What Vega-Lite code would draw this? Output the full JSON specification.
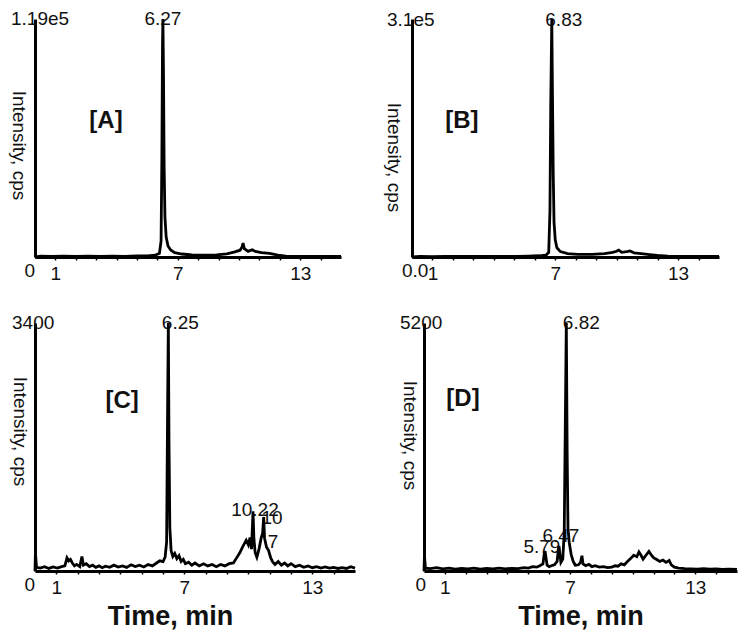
{
  "$schema": "https://vega.github.io/schema/vega-lite/v6.json",
  "padding": {"left": 8, "top": 10, "right": 4, "bottom": 4},
  "background": "white",
  "config": {
    "view": {"stroke": null},
    "font": "Liberation Sans",
    "text": {"font": "Liberation Sans", "fontSize": 19, "color": "#111"},
    "line": {"strokeWidth": 2.8, "color": "#000"},
    "axis": {
      "domainColor": "#000", "domainWidth": 3, "tickColor": "#000", "tickWidth": 1.5,
      "labelFont": "Liberation Sans", "labelFontSize": 19, "labelColor": "#111", "labelPadding": 4,
      "grid": false, "titleFont": "Liberation Sans", "titleColor": "#111"
    }
  },
  "datasets": {
    "A": [
      {"t":0,"i":0},{"t":0.3,"i":400},{"t":0.8,"i":250},{"t":1.4,"i":400},{"t":2.0,"i":300},{"t":2.6,"i":400},{"t":3.2,"i":250},{"t":3.8,"i":400},{"t":4.4,"i":300},{"t":5.0,"i":500},{"t":5.5,"i":600},{"t":5.9,"i":900},{"t":6.1,"i":1800},{"t":6.18,"i":8000},{"t":6.22,"i":50000},{"t":6.25,"i":105000},{"t":6.27,"i":119000},{"t":6.3,"i":90000},{"t":6.33,"i":45000},{"t":6.37,"i":20000},{"t":6.43,"i":10000},{"t":6.52,"i":5500},{"t":6.65,"i":3500},{"t":6.85,"i":2200},{"t":7.2,"i":1500},{"t":7.7,"i":1000},{"t":8.3,"i":900},{"t":8.9,"i":1100},{"t":9.4,"i":1600},{"t":9.8,"i":2600},{"t":10.05,"i":3400},{"t":10.15,"i":5000},{"t":10.2,"i":7000},{"t":10.26,"i":4200},{"t":10.45,"i":2800},{"t":10.65,"i":3600},{"t":10.8,"i":2800},{"t":11.1,"i":2200},{"t":11.5,"i":1800},{"t":11.9,"i":900},{"t":12.3,"i":400},{"t":13,"i":300},{"t":14,"i":300},{"t":15,"i":300}
    ],
    "B": [
      {"t":0,"i":0},{"t":0.4,"i":900},{"t":1,"i":600},{"t":1.6,"i":900},{"t":2.3,"i":700},{"t":3,"i":900},{"t":3.7,"i":700},{"t":4.4,"i":900},{"t":5.1,"i":900},{"t":5.7,"i":1200},{"t":6.2,"i":1600},{"t":6.55,"i":2500},{"t":6.68,"i":6000},{"t":6.74,"i":60000},{"t":6.78,"i":200000},{"t":6.83,"i":310000},{"t":6.86,"i":220000},{"t":6.9,"i":110000},{"t":6.94,"i":45000},{"t":7.0,"i":22000},{"t":7.08,"i":12000},{"t":7.25,"i":7000},{"t":7.6,"i":4500},{"t":8.1,"i":3500},{"t":8.8,"i":3500},{"t":9.4,"i":4500},{"t":9.8,"i":6000},{"t":10.0,"i":7500},{"t":10.1,"i":9000},{"t":10.25,"i":6000},{"t":10.5,"i":7000},{"t":10.65,"i":8000},{"t":10.85,"i":5500},{"t":11.2,"i":4500},{"t":11.6,"i":3200},{"t":12.0,"i":2000},{"t":12.5,"i":1200},{"t":13.2,"i":900},{"t":14,"i":800},{"t":15,"i":800}
    ],
    "C": [
      {"t":0,"i":0},{"t":0.02,"i":260},{"t":0.07,"i":50},{"t":0.25,"i":40},{"t":0.45,"i":60},{"t":0.65,"i":35},{"t":0.85,"i":55},{"t":1.05,"i":40},{"t":1.25,"i":60},{"t":1.4,"i":70},{"t":1.5,"i":180},{"t":1.58,"i":140},{"t":1.66,"i":160},{"t":1.75,"i":110},{"t":1.85,"i":70},{"t":1.95,"i":90},{"t":2.1,"i":60},{"t":2.2,"i":200},{"t":2.27,"i":80},{"t":2.4,"i":100},{"t":2.55,"i":60},{"t":2.7,"i":80},{"t":2.85,"i":50},{"t":3.0,"i":70},{"t":3.15,"i":45},{"t":3.3,"i":65},{"t":3.5,"i":50},{"t":3.7,"i":80},{"t":3.9,"i":55},{"t":4.1,"i":70},{"t":4.3,"i":50},{"t":4.5,"i":85},{"t":4.7,"i":60},{"t":4.9,"i":80},{"t":5.1,"i":55},{"t":5.3,"i":90},{"t":5.5,"i":70},{"t":5.7,"i":110},{"t":5.85,"i":140},{"t":6.0,"i":130},{"t":6.1,"i":190},{"t":6.17,"i":400},{"t":6.21,"i":2000},{"t":6.25,"i":3400},{"t":6.28,"i":1800},{"t":6.32,"i":600},{"t":6.38,"i":280},{"t":6.46,"i":200},{"t":6.55,"i":240},{"t":6.65,"i":170},{"t":6.75,"i":210},{"t":6.85,"i":130},{"t":6.95,"i":160},{"t":7.05,"i":100},{"t":7.2,"i":120},{"t":7.35,"i":80},{"t":7.5,"i":110},{"t":7.7,"i":70},{"t":7.9,"i":100},{"t":8.1,"i":70},{"t":8.3,"i":90},{"t":8.5,"i":60},{"t":8.7,"i":90},{"t":8.9,"i":70},{"t":9.1,"i":100},{"t":9.3,"i":110},{"t":9.45,"i":180},{"t":9.6,"i":250},{"t":9.75,"i":340},{"t":9.9,"i":420},{"t":10.0,"i":360},{"t":10.08,"i":460},{"t":10.15,"i":300},{"t":10.19,"i":600},{"t":10.22,"i":820},{"t":10.26,"i":450},{"t":10.32,"i":250},{"t":10.4,"i":190},{"t":10.5,"i":300},{"t":10.6,"i":450},{"t":10.67,"i":520},{"t":10.72,"i":740},{"t":10.76,"i":450},{"t":10.85,"i":330},{"t":10.95,"i":280},{"t":11.05,"i":180},{"t":11.15,"i":120},{"t":11.25,"i":90},{"t":11.4,"i":130},{"t":11.55,"i":80},{"t":11.7,"i":110},{"t":11.85,"i":70},{"t":12.0,"i":100},{"t":12.2,"i":60},{"t":12.4,"i":80},{"t":12.6,"i":50},{"t":12.8,"i":70},{"t":13.0,"i":45},{"t":13.2,"i":60},{"t":13.4,"i":40},{"t":13.6,"i":55},{"t":13.8,"i":40},{"t":14.0,"i":50},{"t":14.2,"i":35},{"t":14.4,"i":45},{"t":14.6,"i":35},{"t":14.8,"i":60},{"t":15,"i":40}
    ],
    "D": [
      {"t":0,"i":0},{"t":0.02,"i":320},{"t":0.07,"i":60},{"t":0.3,"i":50},{"t":0.6,"i":70},{"t":0.9,"i":45},{"t":1.2,"i":60},{"t":1.5,"i":40},{"t":1.8,"i":55},{"t":2.1,"i":45},{"t":2.4,"i":60},{"t":2.7,"i":40},{"t":3.0,"i":55},{"t":3.3,"i":45},{"t":3.6,"i":60},{"t":3.9,"i":45},{"t":4.2,"i":55},{"t":4.5,"i":50},{"t":4.8,"i":70},{"t":5.0,"i":60},{"t":5.2,"i":90},{"t":5.4,"i":80},{"t":5.55,"i":110},{"t":5.7,"i":150},{"t":5.76,"i":350},{"t":5.8,"i":420},{"t":5.84,"i":300},{"t":5.9,"i":120},{"t":6.0,"i":90},{"t":6.1,"i":110},{"t":6.25,"i":130},{"t":6.38,"i":200},{"t":6.44,"i":450},{"t":6.47,"i":520},{"t":6.5,"i":400},{"t":6.56,"i":180},{"t":6.65,"i":250},{"t":6.72,"i":800},{"t":6.77,"i":3000},{"t":6.82,"i":5200},{"t":6.86,"i":2500},{"t":6.9,"i":900},{"t":6.96,"i":600},{"t":7.05,"i":350},{"t":7.15,"i":200},{"t":7.25,"i":120},{"t":7.4,"i":130},{"t":7.5,"i":180},{"t":7.57,"i":320},{"t":7.62,"i":150},{"t":7.75,"i":110},{"t":7.9,"i":140},{"t":8.05,"i":90},{"t":8.2,"i":110},{"t":8.4,"i":80},{"t":8.6,"i":90},{"t":8.8,"i":70},{"t":9.0,"i":80},{"t":9.15,"i":110},{"t":9.3,"i":100},{"t":9.45,"i":150},{"t":9.6,"i":130},{"t":9.75,"i":200},{"t":9.9,"i":260},{"t":10.05,"i":330},{"t":10.2,"i":300},{"t":10.3,"i":400},{"t":10.4,"i":330},{"t":10.5,"i":250},{"t":10.62,"i":320},{"t":10.78,"i":410},{"t":10.9,"i":330},{"t":11.0,"i":280},{"t":11.15,"i":240},{"t":11.3,"i":200},{"t":11.45,"i":230},{"t":11.6,"i":180},{"t":11.75,"i":220},{"t":11.85,"i":130},{"t":12.0,"i":80},{"t":12.2,"i":60},{"t":12.5,"i":50},{"t":12.8,"i":45},{"t":13.1,"i":40},{"t":13.4,"i":50},{"t":13.7,"i":40},{"t":14.0,"i":45},{"t":14.3,"i":35},{"t":14.6,"i":40},{"t":15,"i":35}
    ]
  },
  "spacing": 31,
  "bounds": "full",
  "vconcat": [
    {
      "spacing": 71,
      "bounds": "flush",
      "hconcat": [
        {
          "width": 306, "height": 238,
          "encoding": {
            "x": {"field": "t", "type": "quantitative", "scale": {"domain": [0, 15], "nice": false, "zero": false},
              "axis": {"values": [1,2,3,4,5,6,7,8,9,10,11,12,13,14], "labelExpr": "datum.value==1||datum.value==7||datum.value==13?datum.label:''", "tickSize": 3, "title": null}},
            "y": {"field": "i", "type": "quantitative", "scale": {"domain": [0, 119000], "nice": false},
              "axis": {"labels": false, "ticks": false, "title": "Intensity, cps", "titleAngle": 90, "titleX": -17, "titleY": 126, "titleBaseline": "middle", "titleAlign": "center", "titleFontWeight": "normal", "titleFontSize": 19}}
          },
          "layer": [
            {"data": {"values": [{"label": "6.27", "t": 6.27, "i": 119000}]}, "mark": {"type": "text", "align": "center", "baseline": "middle", "dy": 0}, "encoding": {"text": {"field": "label"}}},
            {"data": {"values": [{"label": "1.19e5", "t": 0, "i": 119000}]}, "mark": {"type": "text", "align": "left", "baseline": "middle", "dx": -24}, "encoding": {"text": {"field": "label"}}},
            {"data": {"values": [{"label": "0", "t": 0, "i": 0}]}, "mark": {"type": "text", "align": "right", "baseline": "top", "dy": 5}, "encoding": {"text": {"field": "label"}}},
            {"data": {"values": [{"label": "[A]", "t": 3.48, "i": 67900}]}, "mark": {"type": "text", "align": "center", "baseline": "middle", "fontWeight": "bold", "fontSize": 24}, "encoding": {"text": {"field": "label"}}},
            {"data": {"name": "A"}, "mark": {"type": "line"}}
          ]
        },
        {
          "width": 307, "height": 238,
          "encoding": {
            "x": {"field": "t", "type": "quantitative", "scale": {"domain": [0, 15], "nice": false, "zero": false},
              "axis": {"values": [1,2,3,4,5,6,7,8,9,10,11,12,13,14], "labelExpr": "datum.value==1||datum.value==7||datum.value==13?datum.label:''", "tickSize": 3, "title": null}},
            "y": {"field": "i", "type": "quantitative", "scale": {"domain": [0, 310000], "nice": false},
              "axis": {"labels": false, "ticks": false, "title": "Intensity, cps", "titleAngle": 90, "titleX": -19, "titleY": 138, "titleBaseline": "middle", "titleAlign": "center", "titleFontWeight": "normal", "titleFontSize": 19}}
          },
          "layer": [
            {"data": {"values": [{"label": "6.83", "t": 6.83, "i": 310000}]}, "mark": {"type": "text", "align": "center", "baseline": "middle", "dx": 12, "dy": 1}, "encoding": {"text": {"field": "label"}}},
            {"data": {"values": [{"label": "3.1e5", "t": 0, "i": 310000}]}, "mark": {"type": "text", "align": "left", "baseline": "middle", "dx": -25, "dy": 1}, "encoding": {"text": {"field": "label"}}},
            {"data": {"values": [{"label": "0.0", "t": 0, "i": 0}]}, "mark": {"type": "text", "align": "left", "baseline": "top", "dx": -10, "dy": 5}, "encoding": {"text": {"field": "label"}}},
            {"data": {"values": [{"label": "[B]", "t": 2.44, "i": 177000}]}, "mark": {"type": "text", "align": "center", "baseline": "middle", "fontWeight": "bold", "fontSize": 24}, "encoding": {"text": {"field": "label"}}},
            {"data": {"name": "B"}, "mark": {"type": "line"}}
          ]
        }
      ]
    },
    {
      "spacing": 69,
      "bounds": "flush",
      "hconcat": [
        {
          "width": 320, "height": 248,
          "encoding": {
            "x": {"field": "t", "type": "quantitative", "scale": {"domain": [0, 15], "nice": false, "zero": false},
              "axis": {"values": [1,2,3,4,5,6,7,8,9,10,11,12,13,14], "labelExpr": "datum.value==1||datum.value==7||datum.value==13?datum.label:''", "tickSize": 3, "title": "Time, min", "titleFontSize": 27, "titleFontWeight": "bold", "titlePadding": 6, "titleX": 135, "titleAlign": "center"}},
            "y": {"field": "i", "type": "quantitative", "scale": {"domain": [0, 3400], "nice": false},
              "axis": {"labels": false, "ticks": false, "title": "Intensity, cps", "titleAngle": 90, "titleX": -16, "titleY": 108, "titleBaseline": "middle", "titleAlign": "center", "titleFontWeight": "normal", "titleFontSize": 19}}
          },
          "layer": [
            {"data": {"values": [{"label": "6.25", "t": 6.25, "i": 3400}]}, "mark": {"type": "text", "align": "center", "baseline": "middle", "dx": 12}, "encoding": {"text": {"field": "label"}}},
            {"data": {"values": [{"label": "10.22", "t": 10.31, "i": 833}, {"label": "10", "t": 11.11, "i": 723}, {"label": "7", "t": 11.16, "i": 396}]}, "mark": {"type": "text", "align": "center", "baseline": "middle"}, "encoding": {"text": {"field": "label"}}},
            {"data": {"values": [{"label": "3400", "t": 0, "i": 3400}]}, "mark": {"type": "text", "align": "left", "baseline": "middle", "dx": -23}, "encoding": {"text": {"field": "label"}}},
            {"data": {"values": [{"label": "0", "t": 0, "i": 0}]}, "mark": {"type": "text", "align": "right", "baseline": "top", "dy": 5}, "encoding": {"text": {"field": "label"}}},
            {"data": {"values": [{"label": "[C]", "t": 4.08, "i": 2335}]}, "mark": {"type": "text", "align": "center", "baseline": "middle", "fontWeight": "bold", "fontSize": 24}, "encoding": {"text": {"field": "label"}}},
            {"data": {"name": "C"}, "mark": {"type": "line"}}
          ]
        },
        {
          "width": 313, "height": 248,
          "encoding": {
            "x": {"field": "t", "type": "quantitative", "scale": {"domain": [0, 15], "nice": false, "zero": false},
              "axis": {"values": [1,2,3,4,5,6,7,8,9,10,11,12,13,14], "labelExpr": "datum.value==1||datum.value==7||datum.value==13?datum.label:''", "tickSize": 3, "title": "Time, min", "titleFontSize": 27, "titleFontWeight": "bold", "titlePadding": 6}},
            "y": {"field": "i", "type": "quantitative", "scale": {"domain": [0, 5200], "nice": false},
              "axis": {"labels": false, "ticks": false, "title": "Intensity, cps", "titleAngle": 90, "titleX": -15, "titleY": 112, "titleBaseline": "middle", "titleAlign": "center", "titleFontWeight": "normal", "titleFontSize": 19}}
          },
          "layer": [
            {"data": {"values": [{"label": "6.82", "t": 6.82, "i": 5200}]}, "mark": {"type": "text", "align": "center", "baseline": "middle", "dx": 15}, "encoding": {"text": {"field": "label"}}},
            {"data": {"values": [{"label": "5.79", "t": 5.65, "i": 504}, {"label": "6.47", "t": 6.56, "i": 735}]}, "mark": {"type": "text", "align": "center", "baseline": "middle"}, "encoding": {"text": {"field": "label"}}},
            {"data": {"values": [{"label": "5200", "t": 0, "i": 5200}]}, "mark": {"type": "text", "align": "left", "baseline": "middle", "dx": -24}, "encoding": {"text": {"field": "label"}}},
            {"data": {"values": [{"label": "0", "t": 0, "i": 0}]}, "mark": {"type": "text", "align": "right", "baseline": "top", "dy": 5, "dx": 2}, "encoding": {"text": {"field": "label"}}},
            {"data": {"values": [{"label": "[D]", "t": 1.87, "i": 3606}]}, "mark": {"type": "text", "align": "center", "baseline": "middle", "fontWeight": "bold", "fontSize": 24}, "encoding": {"text": {"field": "label"}}},
            {"data": {"name": "D"}, "mark": {"type": "line"}}
          ]
        }
      ]
    }
  ]
}
